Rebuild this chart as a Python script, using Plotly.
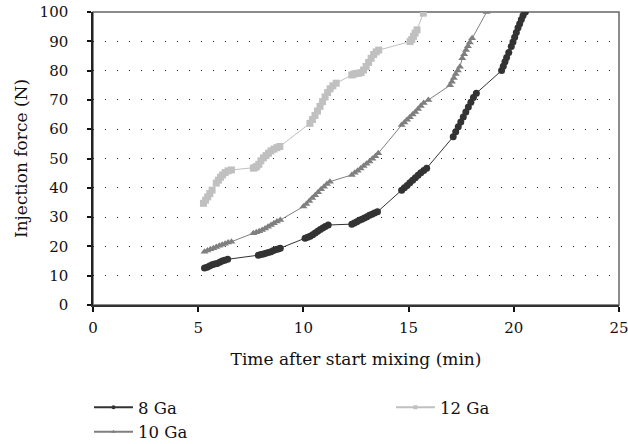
import plotly.graph_objects as go

# ---- data ----
x_8 = [5.30, 5.42, 5.54, 5.66, 5.78, 5.90, 6.02, 6.14, 6.26, 6.40,
       7.86, 7.98, 8.10, 8.22, 8.34, 8.46, 8.58, 8.70, 8.80, 8.90,
       10.08, 10.20, 10.32, 10.44, 10.56, 10.68, 10.80, 10.92, 11.04, 11.18,
       12.30, 12.42, 12.54, 12.66, 12.78, 12.90, 13.02, 13.14, 13.26, 13.38, 13.52,
       14.67, 14.80, 14.93, 15.06, 15.19, 15.32, 15.45, 15.58, 15.72, 15.86,
       17.12, 17.24, 17.36, 17.48, 17.60, 17.72, 17.84, 17.96, 18.08, 18.22,
       19.42, 19.50, 19.58, 19.66, 19.76,
       19.88, 19.96, 20.04, 20.12, 20.20, 20.28, 20.36, 20.44, 20.55]
y_8 = [12.6, 12.9, 13.3, 13.7, 14.0, 14.2, 14.6, 15.0, 15.3, 15.6,
       17.0, 17.2, 17.4, 17.7, 17.9, 18.2, 18.6, 18.9, 19.1, 19.4,
       22.8, 23.1, 23.5, 24.0, 24.6, 25.2, 25.8, 26.3, 26.8, 27.3,
       27.6, 28.0, 28.4, 28.9, 29.3, 29.7, 30.1, 30.6, 31.0, 31.4, 31.8,
       39.2, 40.0, 40.8, 41.7, 42.6, 43.4, 44.3, 45.1, 45.9, 46.7,
       57.4, 59.1, 60.8, 62.5, 64.2, 65.9, 67.6, 69.2, 70.8, 72.3,
       80.0, 81.5, 83.0, 84.5, 86.2,
       88.2, 89.8, 91.4, 93.0, 94.6, 96.0, 97.4, 98.8, 100.0]

x_10 = [5.30, 5.44, 5.58, 5.72, 5.86, 6.00, 6.14, 6.28, 6.42, 6.58,
        7.62, 7.76, 7.90, 8.04, 8.18, 8.32, 8.46, 8.60, 8.74, 8.90,
        10.00, 10.14, 10.28, 10.42, 10.56, 10.70, 10.84, 10.98, 11.12, 11.26,
        12.30, 12.44, 12.58, 12.72, 12.86, 13.00, 13.14, 13.28, 13.42, 13.56,
        14.67, 14.80, 14.93, 15.06, 15.19, 15.32, 15.45, 15.58, 15.72, 15.94,
        16.97, 17.06, 17.15, 17.24, 17.34, 17.44,
        17.55, 17.64, 17.73, 17.82, 17.91, 18.02,
        18.71]
y_10 = [18.2, 18.6, 19.0, 19.4, 19.8, 20.2, 20.6, 20.9, 21.3, 21.6,
        24.5, 24.8, 25.2, 25.6, 26.1, 26.7, 27.3, 27.9, 28.5, 29.0,
        33.6, 34.5, 35.5, 36.5, 37.5, 38.5, 39.5, 40.4, 41.3, 42.1,
        44.4, 45.1, 45.8, 46.6, 47.4, 48.2, 49.0, 49.9, 50.8, 51.8,
        61.4, 62.3, 63.2, 64.1, 65.0, 65.9, 66.9, 67.9, 68.9, 70.0,
        75.0, 76.2, 77.5, 78.8, 80.0, 81.3,
        84.2, 85.6, 87.0, 88.3, 89.6, 91.0,
        100.0]

x_12 = [5.25, 5.35, 5.45, 5.55, 5.66,
        5.86, 5.96, 6.06, 6.16, 6.28, 6.42, 6.58,
        7.62, 7.70, 7.78, 7.88, 7.98, 8.10, 8.22, 8.34, 8.46, 8.60, 8.74, 8.88,
        10.31, 10.43, 10.55, 10.67, 10.79, 10.91, 11.03, 11.15, 11.27, 11.40, 11.56,
        12.30, 12.40, 12.50, 12.62, 12.74, 12.86, 12.98, 13.10, 13.22, 13.34, 13.46, 13.58,
        15.07, 15.15, 15.23, 15.31, 15.40,
        15.70]
y_12 = [34.7, 35.8, 36.9, 38.0, 39.2,
        41.6, 42.6, 43.6, 44.4, 45.2, 45.8, 46.1,
        46.7, 46.9, 47.3, 48.0, 49.2, 50.2, 51.0, 51.8, 52.6, 53.2, 53.7, 54.1,
        62.0, 63.3, 64.7, 66.2, 67.8, 69.4, 71.0, 72.5, 73.8, 74.8, 75.7,
        78.5, 78.8, 79.0, 79.1, 79.3, 80.2, 81.4, 82.8, 84.2, 85.5, 86.4, 87.0,
        89.9, 90.6, 91.7, 92.8, 93.9,
        99.6]

names = ["8 Ga", "10 Ga", "12 Ga"]
colors = ["#333333", "#7f7f7f", "#c0c0c0"]
symbols = ["circle", "triangle-up", "square"]

x_ticks = [0, 5, 10, 15, 20, 25]
y_ticks = [0, 10, 20, 30, 40, 50, 60, 70, 80, 90, 100]

FONT = "DejaVu Serif"

fig = go.Figure()
series = [(x_8, y_8), (x_10, y_10), (x_12, y_12)]
for (xs, ys), n, c, s in zip(series, names, colors, symbols):
    fig.add_trace(go.Scatter(x=xs, y=ys, mode="lines+markers", name=n,
                             line=dict(color=c, width=1),
                             marker=dict(color=c, symbol=s, size=7, line=dict(width=0)),
                             showlegend=False, cliponaxis=True))

# legend entries (small markers as in the reference)
legends = ["legend", "legend", "legend2"]
for n, c, s, lg in zip(names, colors, symbols, legends):
    fig.add_trace(go.Scatter(x=[None], y=[None], mode="lines+markers", name=n,
                             line=dict(color=c, width=2),
                             marker=dict(color=c, symbol=s, size=4),
                             legend=lg, showlegend=True))

fig.add_shape(type="rect", xref="paper", yref="paper", x0=0, y0=0, x1=1, y1=1,
              line=dict(color="#666666", width=1.5), layer="below")

fig.update_layout(
    width=628, height=444,
    margin=dict(l=93, r=9, t=12, b=139, autoexpand=False),
    paper_bgcolor="white", plot_bgcolor="white",
    font=dict(family=FONT, size=15, color="#111111"),
    xaxis=dict(range=[0, 25], tickvals=x_ticks, showgrid=False, zeroline=False,
               showline=True, linecolor="#333333", linewidth=1.5,
               ticks="outside", ticklen=5, tickwidth=1.5, tickcolor="#111111",
               ticklabelstandoff=3, tickfont=dict(size=15),
               ticklabeloverflow="allow",
               title=dict(text="Time after start mixing (min)", standoff=17,
                          font=dict(size=17))),
    yaxis=dict(range=[0, 100], tickvals=y_ticks, showgrid=True,
               gridcolor="#222222", gridwidth=1, griddash="1px,11px",
               zeroline=False, showline=True, linecolor="#222222", linewidth=1.5,
               ticks="outside", ticklen=4, tickwidth=1.5, tickcolor="#111111",
               ticklabelstandoff=16, tickfont=dict(size=15),
               ticklabeloverflow="allow",
               title=dict(text="Injection force (N)", standoff=8,
                          font=dict(size=17))),
    legend=dict(x=-0.0076, xanchor="left", y=0.1216, yanchor="top", yref="container",
                orientation="v", bgcolor="rgba(0,0,0,0)", font=dict(size=16.5),
                itemwidth=39, tracegroupgap=0),
    legend2=dict(x=0.5665, xanchor="left", y=0.1216, yanchor="top", yref="container",
                 orientation="v", bgcolor="rgba(0,0,0,0)", font=dict(size=16.5),
                 itemwidth=39),
)

fig.write_html("out.html")
